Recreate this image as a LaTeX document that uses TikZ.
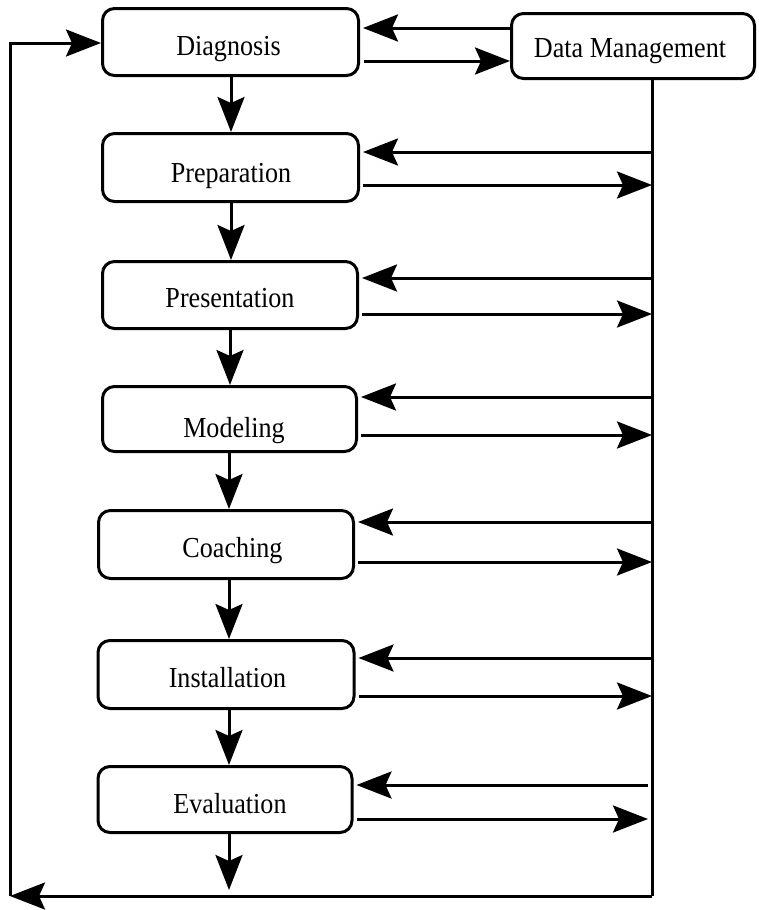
\documentclass[tikz,border=0pt]{standalone}
\usepackage{fontspec}
\usepackage{graphicx}
\setmainfont{Liberation Serif}
\usetikzlibrary{arrows.meta}
\newcommand{\sqz}[1]{\scalebox{0.9}[1]{#1}}
\begin{document}
\begin{tikzpicture}[x=1pt,y=-1pt,
  box/.style={draw, line width=3pt, rounded corners=12pt, inner sep=0pt},
  lbl/.style={anchor=base, inner sep=0pt, font=\fontsize{29}{32}\selectfont},
  conn/.style={line width=3pt, -{Stealth[length=35pt,width=27pt,inset=6pt]}},
  plain/.style={line width=3pt}]
\useasboundingbox (0,0) rectangle (758,910);
\fill[white] (0,0) rectangle (758,910);
% boxes
\node[box, minimum width=256pt, minimum height=67pt] (diag) at (230.5,42) {};
\node[box, minimum width=243pt, minimum height=65pt] (dm) at (633,46) {};
\node[box, minimum width=256pt, minimum height=68pt] (prep) at (230.5,167.5) {};
\node[box, minimum width=255pt, minimum height=67pt] (pres) at (230,295) {};
\node[box, minimum width=254pt, minimum height=65pt] (model) at (229.5,419) {};
\node[box, minimum width=255pt, minimum height=68pt] (coach) at (226,544.5) {};
\node[box, minimum width=256pt, minimum height=68pt] (inst) at (226,674.5) {};
\node[box, minimum width=254pt, minimum height=66pt] (eval) at (225,799.5) {};
% labels
\node[lbl] (diagT) at (228.5,55) {\sqz{Diagnosis}};
\node[lbl] (dmT) at (630,57) {\sqz{Data Management}};
\node[lbl] (prepT) at (231,182) {\sqz{Preparation}};
\node[lbl] (presT) at (230,307) {\sqz{Presentation}};
\node[lbl] (modelT) at (234,437) {\sqz{Modeling}};
\node[lbl] (coachT) at (232.5,557) {\sqz{Coaching}};
\node[lbl] (instT) at (227.5,687) {\sqz{Installation}};
\node[lbl] (evalT) at (230,813) {\sqz{Evaluation}};
% bus line coordinates
\coordinate (bustop) at (652,80);
\coordinate (br) at (652,896);
\coordinate (bl) at (10,896);
\coordinate (tl) at (10,43);
\coordinate (evend) at (229,890);
% Diagnosis <-> DM
\draw[conn] (dm.west |- 0,28) -- ([xshift=3pt]diag.east |- 0,28);
\draw[conn] ([xshift=4pt]diag.east |- 0,61) -- (dm.west |- 0,61);
% bus
\draw[plain] (bustop) -- (br);
\draw[conn] (br) -- (bl);
\draw[conn] (bl) -- (tl) -- (diag.west |- tl);
% vertical flow
\draw[conn] (diag.south -| 231,0) -- (prep.north -| 231,0);
\draw[conn] (prep.south -| 231,0) -- (pres.north -| 231,0);
\draw[conn] (pres.south -| 230,0) -- (model.north -| 230,0);
\draw[conn] (model.south -| 229,0) -- (coach.north -| 229,0);
\draw[conn] (coach.south -| 229,0) -- (inst.north -| 229,0);
\draw[conn] (inst.south -| 229,0) -- (eval.north -| 229,0);
\draw[conn] (eval.south -| evend) -- (evend);
% bus <-> boxes
\draw[conn] (bustop |- 0,152) -- ([xshift=3pt]prep.east |- 0,152);
\draw[conn] ([xshift=3pt]prep.east |- 0,185) -- (bustop |- 0,185);
\draw[conn] (bustop |- 0,278) -- ([xshift=3pt]pres.east |- 0,278);
\draw[conn] ([xshift=3pt]pres.east |- 0,314) -- (bustop |- 0,314);
\draw[conn] (bustop |- 0,397) -- ([xshift=3pt]model.east |- 0,397);
\draw[conn] ([xshift=3pt]model.east |- 0,435) -- (bustop |- 0,435);
\draw[conn] (bustop |- 0,522) -- ([xshift=3pt]coach.east |- 0,522);
\draw[conn] ([xshift=3pt]coach.east |- 0,562) -- (bustop |- 0,562);
\draw[conn] (bustop |- 0,658) -- ([xshift=3pt]inst.east |- 0,658);
\draw[conn] ([xshift=3pt]inst.east |- 0,696) -- (bustop |- 0,696);
\draw[conn] ([xshift=-4pt]bustop |- 0,785) -- ([xshift=3pt]eval.east |- 0,785);
\draw[conn] ([xshift=3pt]eval.east |- 0,819) -- ([xshift=-4pt]bustop |- 0,819);
\end{tikzpicture}
\end{document}
